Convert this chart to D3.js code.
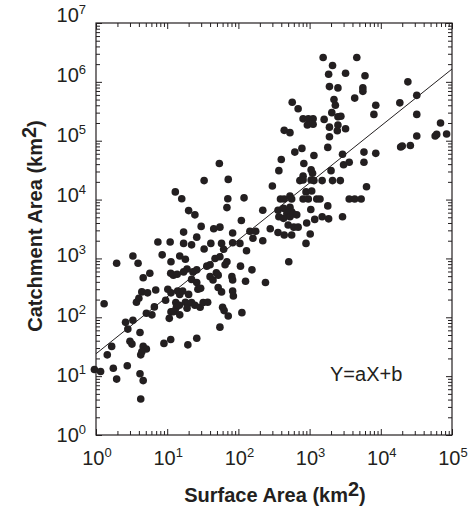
<!DOCTYPE html>
<html>
<head>
<meta charset="utf-8">
<script src="https://cdn.jsdelivr.net/npm/d3@7"></script>
<style>
  html, body { margin: 0; padding: 0; background: #fff; }
  svg { display: block; font-family: "Liberation Sans", Arial, Helvetica, sans-serif; }
</style>
</head>
<body>
<svg id="chart" width="474" height="507"></svg>
<script>
// ---- Data ----
const surfaceArea = [
  1550, 4600, 2100, 1850, 3200, 6000, 1900, 2500, 5600, 5600,
  4300, 2200, 2300, 570, 690, 24000, 32000, 18500, 8500, 8000,
  32000, 2050, 1600, 810, 960, 1120, 2500, 2750, 930, 1120,
  1900, 2500, 3200, 440, 69000, 530, 1900, 2450, 61000, 58000,
  84000, 32000, 19000, 20000, 26000, 1800, 780, 620, 1150, 2900,
  5800, 8500, 5800, 3600, 3000, 400, 830, 54, 370, 1050,
  1100, 810, 2000, 730, 810, 1050, 1150, 1500, 2100, 2700,
  33, 72, 300, 6300, 13, 16, 71, 120, 890, 1070,
  390, 440, 530, 560, 810, 960, 1260, 1400, 3600, 4300,
  5300, 69, 20, 24.5, 220, 360, 430, 530, 560, 480,
  370, 430, 530, 590, 660, 1040, 1800, 1500, 1850, 1180,
  2900, 910, 500, 600, 690, 110, 30, 45, 55, 17,
  26, 83, 145, 175, 280, 360, 440, 560, 1020,
  7.4, 11, 17, 22, 41, 58, 83, 105, 160, 220,
  890, 33, 62, 130, 3.3, 8.5, 15, 18, 1.95, 3.9,
  11.3, 47, 55, 69, 65, 40, 36, 107, 155, 510,
  19, 17, 23, 26, 11.2, 12.2, 13.8, 5.7, 4.6, 22,
  40, 44, 49, 52, 81, 83, 126, 240, 26, 10.2,
  11.3, 4.4, 5.3, 6.9, 14, 15, 16.5, 20, 27, 29.5,
  52, 58, 83, 85, 3.7, 4.0, 1.3, 9.5, 13.2, 13.5,
  12.9, 14.8, 18, 19.5, 19, 22, 24.5, 29, 32, 37,
  6.6, 5.1, 6.1, 11.3, 12.2, 15, 60, 63, 72, 112,
  10.7, 2.6, 3.3, 2.8, 4.15, 55, 9.0, 11.2, 19.5, 26,
  3.0, 3.2, 1.66, 4.6, 5.1,
  0.95, 1.16, 1.44, 1.75, 1.95, 2.75, 4.15, 4.25, 4.4, 4.6, 4.25
];
const catchmentArea = [
  2.6e6, 2.6e6, 1.9e6, 1.35e6, 1.4e6, 1.27e6, 8.3e5, 7.9e5, 7.9e5, 6.9e5,
  5.3e5, 5.0e5, 4.0e5, 4.5e5, 3.5e5, 1.0e6, 5.9e5, 4.4e5, 4.0e5, 2.8e5,
  2.8e5, 3.0e5, 2.3e5, 2.35e5, 2.35e5, 2.35e5, 2.55e5, 2.6e5, 1.85e5, 1.9e5,
  1.7e5, 1.85e5, 1.6e5, 1.5e5, 2.0e5, 1.37e5, 1.17e5, 1.48e5, 1.28e5, 1.2e5,
  1.3e5, 1.2e5, 7.8e4, 8.1e4, 8.3e4, 7.7e4, 7.4e4, 6.4e4, 5.6e4, 5.9e4,
  6.4e4, 6.1e4, 4.3e4, 4.3e4, 3.9e4, 4.8e4, 4.1e4, 4.1e4, 3.1e4, 3.2e4,
  2.8e4, 2.5e4, 3.1e4, 2.1e4, 2.15e4, 2.15e4, 2.1e4, 2.1e4, 2.1e4, 2.1e4,
  2.1e4, 2.2e4, 1.7e4, 1.65e4, 1.35e4, 1.03e4, 1.03e4, 1.07e4, 1.35e4, 1.4e4,
  1.02e4, 1.02e4, 1.15e4, 1.02e4, 1.02e4, 1.02e4, 1.02e4, 1.02e4, 1.02e4, 1.02e4,
  1.02e4, 7300, 6500, 5500, 6600, 6600, 7100, 7400, 6200, 5800,
  5100, 4800, 5100, 5700, 5500, 6800, 7800, 5100, 4700, 4600,
  5100, 4000, 3700, 3400, 3400, 4400, 3500, 3200, 3400, 2800,
  2300, 2700, 2900, 2900, 3200, 2750, 2500, 2500, 2600,
  1900, 1900, 1800, 1700, 1800, 1800, 1850, 1800, 2200, 2000,
  1800, 1450, 1430, 1350, 1100, 1150, 1100, 970, 830, 830,
  880, 1000, 1070, 880, 780, 780, 740, 740, 640, 880,
  660, 590, 590, 640, 560, 520, 540, 560, 470, 440,
  490, 430, 570, 520, 490, 430, 410, 390, 390, 300,
  260, 270, 260, 290, 280, 245, 280, 245, 300, 310,
  320, 270, 280, 230, 180, 210, 170, 195, 178, 150,
  130, 160, 180, 170, 142, 178, 160, 148, 178, 180,
  150, 117, 110, 124, 124, 110, 148, 130, 105, 120,
  96, 82, 89, 63, 55, 68, 36, 42, 34, 44,
  39, 35, 32, 32, 29,
  13, 12, 23, 13.6, 8.9, 15, 11, 23, 26, 8.4, 4.1
];
// Fitted line end points
const fitX = [1, 1e5];
const fitY = [24, 1.65e6];
// Tick decades
const xDecades = [0, 1, 2, 3, 4, 5];
const yDecades = [0, 1, 2, 3, 4, 5, 6, 7];
const xTitle = "Surface Area (km";
const yTitle = "Catchment Area (km";
const eqText = "Y=aX+b";

// ---- Layout ----
const svg = d3.select("#chart");
const L = 96, R = 452, T = 23, B = 435;
const x = d3.scaleLog().domain([1, 1e5]).range([L, R]);
const y = d3.scaleLog().domain([1, 1e7]).range([B, T]);
// y tick labels in the reference are spread slightly wider than the ticks
const yLab = d3.scaleLinear().domain([0, 7]).range([441.5, 22]);

const ink = "#231f20";

function ticksFor(decs) {
  const major = decs.map(d => Math.pow(10, d));
  const minor = [];
  decs.slice(0, -1).forEach(d => {
    for (let m = 2; m <= 9; m++) minor.push(m * Math.pow(10, d));
  });
  return { major, minor };
}
const xt = ticksFor(xDecades), yt = ticksFor(yDecades);

function drawAxis(axisFn, scale, vals, size, transform) {
  const g = svg.append("g").attr("transform", transform)
    .call(axisFn(scale).tickValues(vals).tickSize(-size).tickFormat(""));
  g.select(".domain").remove();
  g.selectAll(".tick line").attr("stroke", ink).attr("stroke-width", 1);
}
drawAxis(d3.axisBottom, x, xt.major, 6, `translate(0,${B})`);
drawAxis(d3.axisBottom, x, xt.minor, 4, `translate(0,${B})`);
drawAxis(d3.axisTop, x, xt.major, 6, `translate(0,${T})`);
drawAxis(d3.axisTop, x, xt.minor, 4, `translate(0,${T})`);
drawAxis(d3.axisLeft, y, yt.major, 6, `translate(${L},0)`);
drawAxis(d3.axisLeft, y, yt.minor, 4, `translate(${L},0)`);
drawAxis(d3.axisRight, y, yt.major, 6, `translate(${R},0)`);
drawAxis(d3.axisRight, y, yt.minor, 4, `translate(${R},0)`);

// frame
svg.append("rect").attr("x", L).attr("y", T).attr("width", R - L).attr("height", B - T)
  .attr("fill", "none").attr("stroke", ink).attr("stroke-width", 1.2);

// tick labels with superscripts
function powLabel(sel, exp) {
  sel.append("tspan").text("10");
  sel.append("tspan").attr("font-size", 13).attr("dy", -8).text(exp);
}
xDecades.forEach(d => {
  const t = svg.append("text").attr("x", x(Math.pow(10, d)) + 1).attr("y", 465)
    .attr("text-anchor", "middle").attr("font-size", 20).attr("fill", ink);
  powLabel(t, d);
});
yDecades.forEach(d => {
  const t = svg.append("text").attr("x", 86).attr("y", yLab(d))
    .attr("text-anchor", "end").attr("font-size", 20).attr("fill", ink);
  powLabel(t, d);
});

// fit line
svg.append("line")
  .attr("x1", x(fitX[0])).attr("y1", y(fitY[0]))
  .attr("x2", x(fitX[1])).attr("y2", y(fitY[1]))
  .attr("stroke", ink).attr("stroke-width", 1);

// points
const pts = surfaceArea.map((s, i) => ({ s, c: catchmentArea[i] }));
svg.append("g").selectAll("circle").data(pts).join("circle")
  .attr("cx", d => x(d.s)).attr("cy", d => y(d.c)).attr("r", 3.8)
  .attr("fill", ink);

// equation
svg.append("text").attr("x", 330).attr("y", 381).attr("font-size", 20)
  .attr("fill", ink).text(eqText);

// axis titles
const xt1 = svg.append("text").attr("x", 275).attr("y", 502).attr("text-anchor", "middle")
  .attr("font-size", 20).attr("font-weight", "bold").attr("fill", ink);
xt1.append("tspan").text(xTitle);
xt1.append("tspan").attr("dy", -6).text("2");
xt1.append("tspan").attr("dy", 6).text(")");

const yt1 = svg.append("text").attr("transform", "translate(42,226) rotate(-90)")
  .attr("text-anchor", "middle").attr("font-size", 20).attr("font-weight", "bold").attr("fill", ink);
yt1.append("tspan").text(yTitle);
yt1.append("tspan").attr("dy", -6).text("2");
yt1.append("tspan").attr("dy", 6).text(")");
</script>
</body>
</html>
